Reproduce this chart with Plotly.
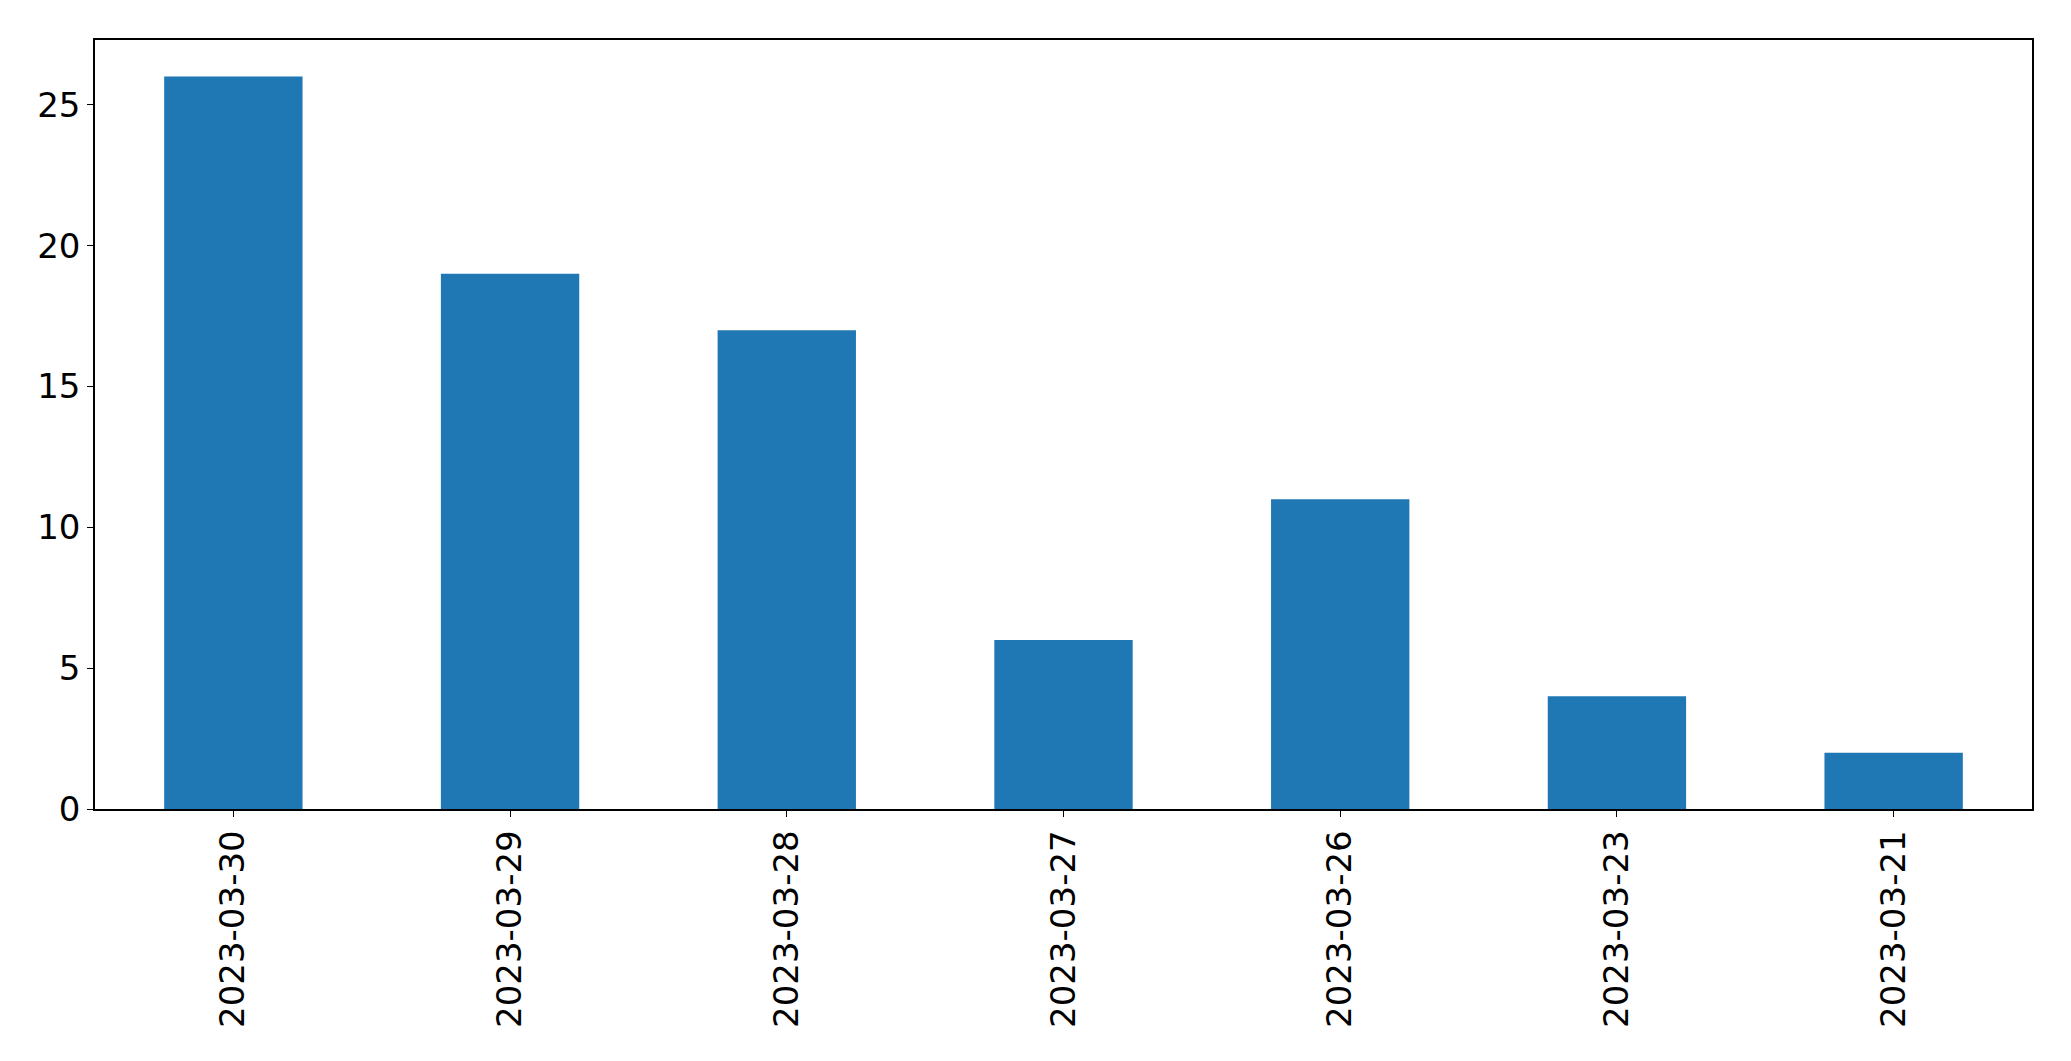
import plotly.graph_objects as go

dates = ["2023-03-30", "2023-03-29", "2023-03-28", "2023-03-27", "2023-03-26", "2023-03-23", "2023-03-21"]
counts = [26, 19, 17, 6, 11, 4, 2]

fig = go.Figure(go.Bar(x=dates, y=counts, width=0.5, marker=dict(color="#1f77b4", line=dict(width=0))))

font = dict(family="DejaVu Sans", size=34, color="black")
# page body has an 8px margin; figure sized so it fits the window
fig.update_layout(
    width=2055, height=1045,
    margin=dict(l=86.5, r=31.3, t=31.5, b=244, autoexpand=False),
    plot_bgcolor="white", paper_bgcolor="white",
    showlegend=False,
    font=font,
)
fig.update_xaxes(
    type="category", range=[-0.5, 6.5],
    showline=True, linecolor="black", linewidth=1.5, mirror=True,
    ticks="outside", ticklen=6, tickwidth=1.2, tickcolor="black",
    tickangle=-90, tickfont=font, showgrid=False, zeroline=False,
)
fig.update_yaxes(
    range=[0, 27.3], tickvals=[0, 5, 10, 15, 20, 25],
    showline=True, linecolor="black", linewidth=1.5, mirror=True,
    ticks="outside", ticklen=6, tickwidth=1.2, tickcolor="black",
    tickfont=font, showgrid=False, zeroline=False,
)
fig.write_html("out.html")
